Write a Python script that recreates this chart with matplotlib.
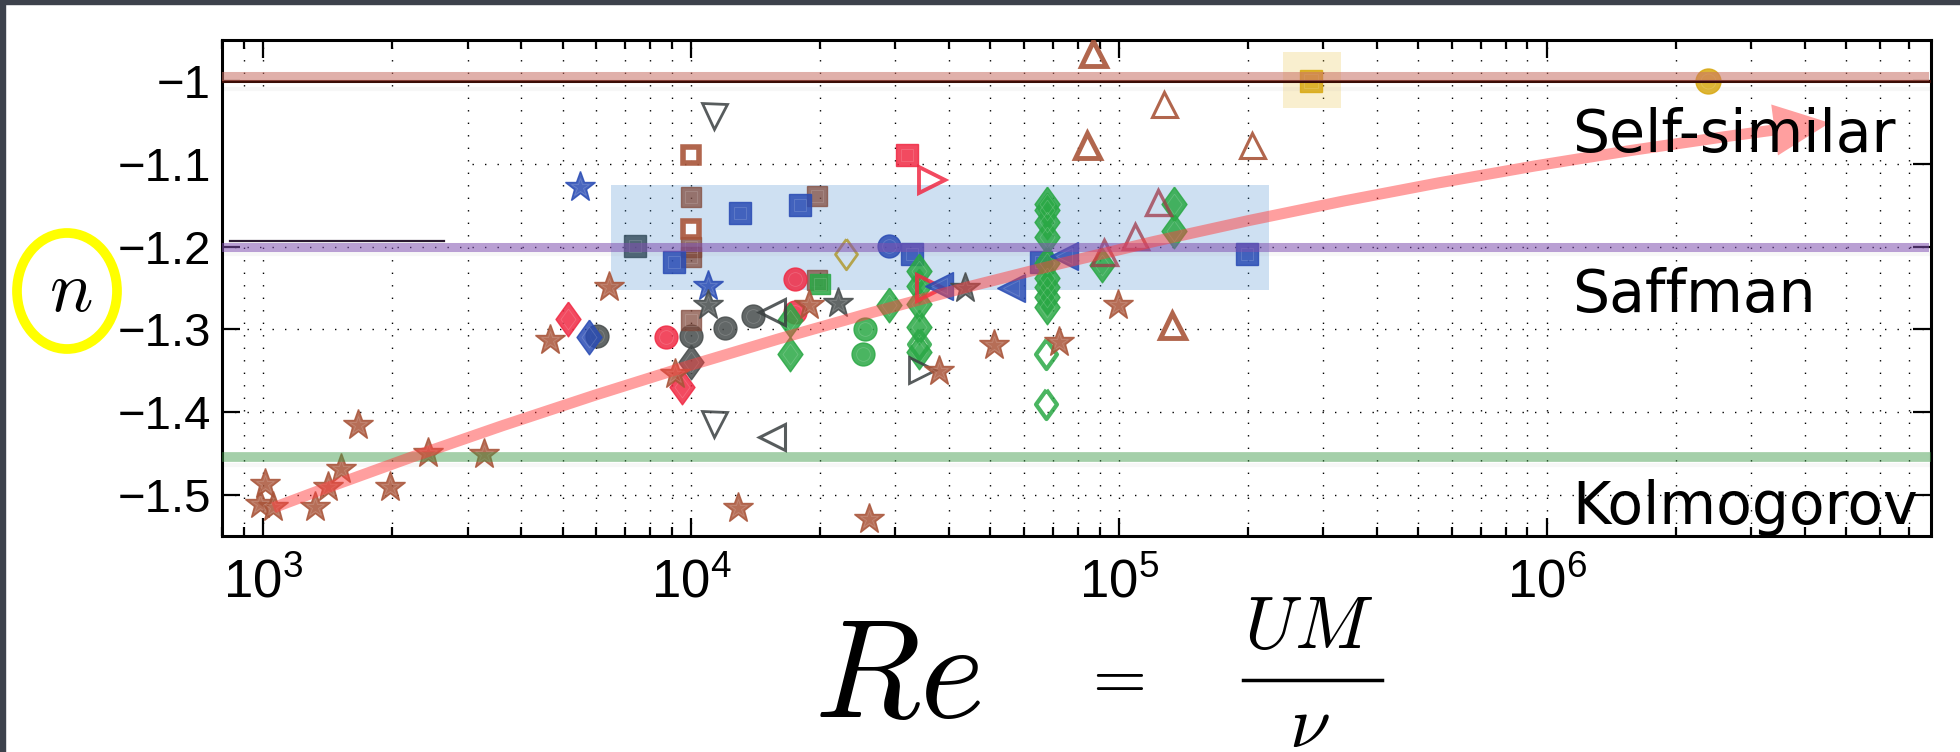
import matplotlib
matplotlib.use("Agg")
import matplotlib.pyplot as plt
from matplotlib.patches import Rectangle, Ellipse, FancyArrowPatch
from matplotlib.lines import Line2D
from matplotlib.ticker import LogLocator, FuncFormatter, NullFormatter

plt.rcParams['font.family'] = ['Liberation Sans', 'DejaVu Sans']
plt.rcParams['mathtext.fontset'] = 'custom'
plt.rcParams['mathtext.rm'] = 'Liberation Sans'
plt.rcParams['mathtext.it'] = 'Liberation Sans:italic'

# ---- data (Re, n) ----
brown_star_x = [980, 1007, 1053, 1318, 1413, 1519, 1664, 1980, 2421, 3270,
                4685, 6413, 9176, 12840, 18890, 26090, 38020, 51100, 72360, 99400]
brown_star_y = [-1.511, -1.487, -1.515, -1.515, -1.491, -1.469, -1.416, -1.491, -1.449, -1.451,
                -1.313, -1.249, -1.354, -1.516, -1.271, -1.529, -1.351, -1.319, -1.315, -1.270]
blue_star_x = [5483, 10940]
blue_star_y = [-1.1275, -1.247]
gray_star_x = [10940, 21970, 43720]
gray_star_y = [-1.271, -1.268, -1.250]

red_diam_x = [5150, 9513]
red_diam_y = [-1.288, -1.370]
blue_diam_x = [5778]
blue_diam_y = [-1.309]
gray_diam_x = [9984]
gray_diam_y = [-1.340]
green_diam_x = [17000, 17000, 28910,
                33970, 33970, 33970, 33970, 33970,
                67700, 67700, 67700, 67700, 67700, 67700, 67700, 67700, 67700,
                91300, 134200, 134200]
green_diam_y = [-1.289, -1.330, -1.270,
                -1.230, -1.247, -1.269, -1.297, -1.327,
                -1.148, -1.156, -1.170, -1.188, -1.220, -1.238, -1.249, -1.261, -1.273,
                -1.222, -1.148, -1.181]
green_open_diam_x = [33970, 67600, 67600]
green_open_diam_y = [-1.318, -1.330, -1.390]
olive_open_diam_x = [22940]
olive_open_diam_y = [-1.209]

gray_circ_x = [6030, 9984, 11960, 13940]
gray_circ_y = [-1.3085, -1.3085, -1.298, -1.284]
red_circ_x = [8741, 17430, 17430]
red_circ_y = [-1.309, -1.239, -1.279]
blue_circ_x = [28910]
blue_circ_y = [-1.199]
green_circ_x = [25500, 25240]
green_circ_y = [-1.299, -1.330]
gold_circ_x = [2.38e6]
gold_circ_y = [-1.0]

brown_sq_x = [9984, 9984, 9984, 9984, 19670, 19670]
brown_sq_y = [-1.1396, -1.200, -1.212, -1.289, -1.1388, -1.2406]
brown_open_sq_x = [9984, 9984]
brown_open_sq_y = [-1.089, -1.179]
blue_sq_x = [9093, 12970, 17970, 32880, 65590, 198500]
blue_sq_y = [-1.219, -1.159, -1.149, -1.209, -1.2185, -1.209]
slate_sq_x = [7395]
slate_sq_y = [-1.199]
red_sq_x = [31920]
red_sq_y = [-1.089]
green_sq_x = [20020]
green_sq_y = [-1.2446]
gold_sq_x = [2.81e5]
gold_sq_y = [-1.0]

gray_down_x = [11270, 11270]
gray_down_y = [-1.042, -1.414]
gray_left_x = [15440, 15440]
gray_left_y = [-1.279, -1.430]
gray_right_x = [34540]
gray_right_y = [-1.349]
red_right_x = [36500, 36230]
red_right_y = [-1.119, -1.250]
blue_left_x = [38020, 55840, 74500]
blue_left_y = [-1.2475, -1.2497, -1.2108]
brown_up_thick_x = [87100, 83950, 133200]
brown_up_thick_y = [-0.966, -1.0765, -1.295]
brown_up_thin_x = [127000, 204000]
brown_up_thin_y = [-1.027, -1.0765]
maroon_up_x = [123300, 108900, 92000]
maroon_up_y = [-1.146, -1.187, -1.206]

# theory levels
levels = [-1.0, -1.2, -1.455]
level_names = ['Self-similar', 'Saffman', 'Kolmogorov']
level_text_y = [-1.0855, -1.2794, -1.535]

# trend arrow (start, tip)
trend_start = (1055, -1.5158)
trend_tip = (4.58e6, -1.0503)

# highlighted regions
blue_box_x = (6500, 2.238e5)
blue_box_y = (-1.2527, -1.1255)
gold_box_x = (2.413e5, 3.302e5)
gold_box_y = (-1.0321, -0.9642)

fig = plt.figure(figsize=(19.6, 7.52), dpi=100)
ax = fig.add_axes([222 / 1960, 1 - 536 / 752, (1931 - 222) / 1960, (536 - 40) / 752])
ax.set_xscale('log')
ax.set_xlim(800, 7.9e6)
ax.set_ylim(-1.55, -0.95)
ax.set_axisbelow(True)

# grid
dot = (0, (1, 8))
ax.grid(True, which='both', axis='x', color='k', ls=dot, lw=1.0)
ax.grid(True, which='major', axis='y', color='k', ls=dot, lw=1.0)

# blank patch left over in the original
ax.add_patch(Rectangle((802, -1.1936), 2917 - 802, 0.187, facecolor='white', edgecolor='none', zorder=0.8))
ax.plot([833, 2648], [-1.193, -1.193], color='#2a1a30', lw=1.6, zorder=1)

# shaded regions
ax.add_patch(Rectangle((blue_box_x[0], blue_box_y[0]), blue_box_x[1] - blue_box_x[0],
                       blue_box_y[1] - blue_box_y[0], facecolor='#4a90d0', alpha=0.27,
                       edgecolor='none', zorder=1))
ax.add_patch(Rectangle((gold_box_x[0], gold_box_y[0]), gold_box_x[1] - gold_box_x[0],
                       gold_box_y[1] - gold_box_y[0], facecolor='#e8c040', alpha=0.25,
                       edgecolor='none', zorder=1))


def pts(x, y, marker, ms, face, edge=None, mew=1.0, alpha=0.85, z=3):
    if edge is None:
        edge = face
    ax.plot(x, y, ls='none', marker=marker, ms=ms, mfc=face, mec=edge, mew=mew,
            alpha=alpha, zorder=z)
    if face not in ('none', 'white'):
        # faint inner outline seen on the filled symbols
        ax.plot(x, y, ls='none', marker=marker, ms=ms * 0.6, mfc='none', mec='white',
                mew=0.6, alpha=0.17, zorder=z)


diamond = [(0, 1), (0.72, 0), (0, -1), (-0.72, 0), (0, 1)]

brown = '#a9553a'
blue = '#2a4cb4'
red = '#f02a44'
green = '#2aa845'
gray = '#474c4c'

pts(gray_circ_x, gray_circ_y, 'o', 16.5, gray)
pts(brown_sq_x, brown_sq_y, 's', 15, '#80483a', alpha=0.72)
pts(brown_open_sq_x, brown_open_sq_y, 's', 11, 'white', brown, mew=4, alpha=0.9)
pts(blue_sq_x, blue_sq_y, 's', 15.5, blue)
pts(slate_sq_x, slate_sq_y, 's', 15.5, '#3a5262')
pts(red_sq_x, red_sq_y, 's', 15.5, red)
pts(green_sq_x, green_sq_y, 's', 15, green)
pts(gold_sq_x, gold_sq_y, 's', 16, '#d8a812')
pts(red_circ_x, red_circ_y, 'o', 16.5, red)
pts(blue_circ_x, blue_circ_y, 'o', 16.5, blue)
pts(green_circ_x, green_circ_y, 'o', 16.5, green)
pts(gold_circ_x, gold_circ_y, 'o', 18, '#d8a812')
pts(green_diam_x, green_diam_y, diamond, 25, green)
pts(green_open_diam_x, green_open_diam_y, diamond, 21, 'none', green, mew=3)
pts(olive_open_diam_x, olive_open_diam_y, diamond, 22, 'none', '#b09a30', mew=2)
pts(red_diam_x, red_diam_y, diamond, 25, red)
pts(blue_diam_x, blue_diam_y, diamond, 25, blue)
pts(gray_diam_x, gray_diam_y, diamond, 25, gray)
pts(gray_down_x, gray_down_y, 'v', 18, 'none', '#3a3f40', mew=2)
pts(gray_left_x, gray_left_y, '<', 19, 'none', '#3a3f40', mew=2.2)
pts(gray_right_x, gray_right_y, '>', 19, 'none', '#3a3f40', mew=2)
pts(red_right_x, red_right_y, '>', 19, 'none', red, mew=2.8)
pts(blue_left_x, blue_left_y, '<', 20, blue)
pts(brown_up_thick_x, brown_up_thick_y, '^', 18, 'none', brown, mew=3.5, alpha=0.9)
pts(brown_up_thin_x, brown_up_thin_y, '^', 18, 'none', brown, mew=2.2, alpha=0.9)
pts(maroon_up_x, maroon_up_y, '^', 18, 'none', '#a03848', mew=2.4, alpha=0.75)
pts(brown_star_x, brown_star_y, '*', 22.5, brown)
pts(blue_star_x, blue_star_y, '*', 22.5, blue)
pts(gray_star_x, gray_star_y, '*', 22.5, gray)

# theory lines
ax.axhline(levels[0], color='#3a0c05', lw=2.2, zorder=4)
ax.axhline(levels[0] + 0.006, xmax=0.996, color='#c87065', lw=6.5, alpha=0.55, zorder=4)
ax.axhline(levels[1], xmax=0.996, color='#8050b0', lw=6.5, alpha=0.55, zorder=4)
ax.axhline(levels[2], xmax=0.998, color='#3f9a48', lw=7.0, alpha=0.47, zorder=4)
for lv in levels:
    ax.axhline(lv - 0.009, color='0.6', lw=3, alpha=0.07, zorder=1)

for name, ty in zip(level_names, level_text_y):
    ax.text(1.144e6, ty, name, fontsize=42, family='DejaVu Sans', va='baseline', ha='left', zorder=6)

# trend arrow
arrow = FancyArrowPatch(trend_start, trend_tip,
                        arrowstyle='simple,tail_width=8,head_width=37,head_length=40',
                        connectionstyle='arc3,rad=-0.06', mutation_scale=1,
                        shrinkA=0, shrinkB=0, color='#ff4040', alpha=0.5, lw=0, zorder=5)
ax.add_patch(arrow)

# axes styling
for s in ax.spines.values():
    s.set_linewidth(2.2)
ax.xaxis.set_major_locator(LogLocator(base=10, numticks=10))
ax.xaxis.set_minor_locator(LogLocator(base=10, subs=range(2, 10), numticks=20))
ax.xaxis.set_minor_formatter(NullFormatter())
ax.set_yticks([-1.5, -1.4, -1.3, -1.2, -1.1, -1.0])
ax.yaxis.set_major_formatter(FuncFormatter(lambda v, p: f"{v:g}".replace('-', '\u2212')))
ax.tick_params(which='both', direction='in', top=True, right=True, width=1.6)
ax.tick_params(which='major', length=13)
ax.tick_params(which='minor', length=6.5)
ax.tick_params(axis='y', labelsize=34, pad=8)
ax.tick_params(axis='x', labelsize=38, pad=16)

# y label: n in a yellow ring
fig.text(71 / 1960, 1 - 292 / 752, r'$n$', fontsize=52, ha='center', va='center', math_fontfamily='cm')
ring = Ellipse((67 / 1960, 1 - 291 / 752), 100 / 1960, 116 / 752, transform=fig.transFigure,
               fill=False, ec='#ffff00', lw=7)
fig.add_artist(ring)

# x label: Re = UM / nu
fig.text(898 / 1960, 1 - 717 / 752, r'$Re$', fontsize=100, ha='center', va='baseline', math_fontfamily='cm')
fig.text(1112 / 1960, 1 - 679 / 752, r'$=$', fontsize=50, ha='center', va='center', math_fontfamily='cm')
fig.text(1309 / 1960, 1 - 648 / 752, r'$UM$', fontsize=53, ha='center', va='baseline', math_fontfamily='cm')
fig.text(1309 / 1960, 1 - 747 / 752, r'$\nu$', fontsize=53, ha='center', va='baseline', math_fontfamily='cm')
fig.add_artist(Line2D([1243 / 1960, 1382 / 1960], [1 - 680 / 752, 1 - 680 / 752], color='k', lw=2.5))

# dark frame strips of the original slide
fig.add_artist(Rectangle((0, 1 - 4 / 752), 1, 4 / 752, transform=fig.transFigure, color='#3d424c'))
fig.add_artist(Rectangle((0, 0), 5 / 1960, 1, transform=fig.transFigure, color='#3d424c'))

fig.savefig('out.png', dpi=100)
